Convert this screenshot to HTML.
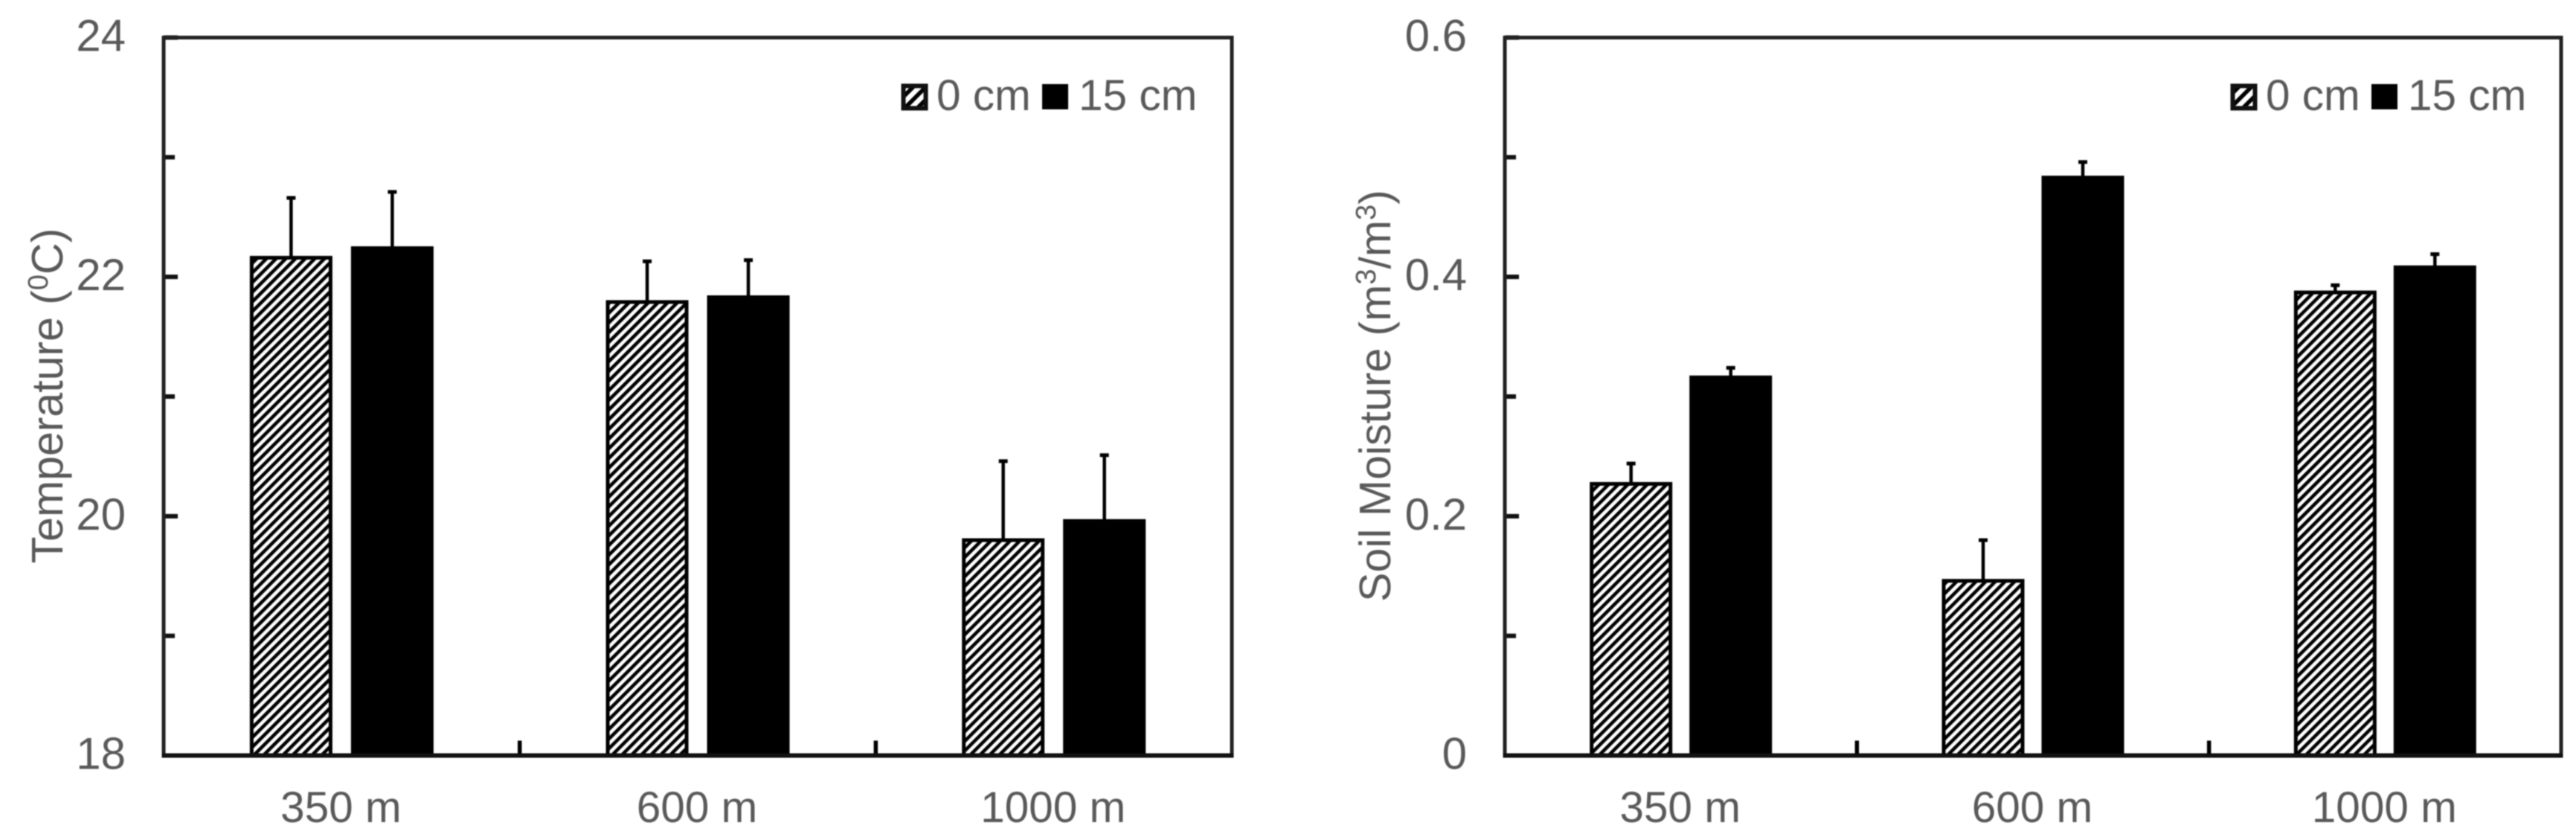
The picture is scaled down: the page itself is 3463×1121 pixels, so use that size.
<!DOCTYPE html>
<html lang="en">
<head>
<meta charset="utf-8">
<title>Temperature and soil moisture by elevation</title>
<style>
  html, body { margin: 0; padding: 0; background: #fff; }
  body { width: 3463px; height: 1121px; overflow: hidden; }
  svg { display: block; filter: blur(0.8px); }
  text { font-family: "Liberation Sans", sans-serif; fill: #595959; }
  .tick-text { font-size: 60px; }
  .cat-text { font-size: 58.5px; }
  .legend-text { font-size: 58.5px; }
  .title-text { font-size: 59px; }
  .title-sup { font-size: 38px; }
</style>
</head>
<body>
<svg id="figure" xmlns="http://www.w3.org/2000/svg" width="3463" height="1121" viewBox="0 0 3463 1121">
  <defs>
    <pattern id="hatch" patternUnits="userSpaceOnUse" width="9.2" height="9.2" patternTransform="rotate(45)">
      <rect width="9.2" height="9.2" fill="#fff"></rect>
      <rect width="4.6" height="9.2" fill="#000"></rect>
    </pattern>
    <pattern id="hatch-legend" patternUnits="userSpaceOnUse" width="12" height="12" patternTransform="rotate(45)">
      <rect width="12" height="12" fill="#fff"></rect>
      <rect width="5.5" height="12" fill="#000"></rect>
    </pattern>
  </defs>
  <g id="temperature-chart"></g>
  <g id="moisture-chart"></g>
</svg>
<script>
const categories = ['350 m', '600 m', '1000 m'];
const seriesNames = ['0 cm', '15 cm'];

const tempSurface = [22.16, 21.79, 19.80];
const tempDeep = [22.24, 21.83, 19.96];
const tempSurfaceErr = [0.50, 0.34, 0.66];
const tempDeepErr = [0.47, 0.31, 0.55];
const tempTickLabels = ['18', '20', '22', '24'];
const tempTickValues = [18, 20, 22, 24];
const tempMinorValues = [19, 21, 23];
const tempRange = [18, 24];

const moistSurface = [0.227, 0.146, 0.387];
const moistDeep = [0.316, 0.483, 0.408];
const moistSurfaceErr = [0.017, 0.034, 0.006];
const moistDeepErr = [0.008, 0.013, 0.011];
const moistTickLabels = ['0', '0.2', '0.4', '0.6'];
const moistTickValues = [0, 0.2, 0.4, 0.6];
const moistMinorValues = [0.1, 0.3, 0.5];
const moistRange = [0, 0.6];

const NS = 'http://www.w3.org/2000/svg';
const TOP = 50.5;
const BOTTOM = 1015.5;

function shape(parent, tag, props) {
  const el = document.createElementNS(NS, tag);
  for (const key in props) el.setAttribute(key, props[key]);
  parent.appendChild(el);
  return el;
}

function drawChart(cfg) {
  const root = document.getElementById(cfg.id);
  const yOf = v => BOTTOM - (v - cfg.range[0]) / (cfg.range[1] - cfg.range[0]) * (BOTTOM - TOP);
  const catWidth = (cfg.right - cfg.left) / categories.length;

  const frame = shape(root, 'rect', { x: cfg.left, y: TOP, width: cfg.right - cfg.left, height: BOTTOM - TOP, fill: '#fff', stroke: 'none' });
  
  

  categories.forEach((cat, i) => {
    const cx = cfg.left + catWidth * (i + 0.5);
    [0, 1].forEach(s => {
      const value = s === 0 ? cfg.surface[i] : cfg.deep[i];
      const err = s === 0 ? cfg.surfaceErr[i] : cfg.deepErr[i];
      const x = cx + (s === 0 ? cfg.barOffset0 : cfg.barOffset1);
      const y = yOf(value);
      const whisker = shape(root, 'line', { x1: x + cfg.barWidth / 2, x2: x + cfg.barWidth / 2, y1: y, y2: yOf(value + err), stroke: '#000', 'stroke-width': 4.5 });
      
      
      const cap = shape(root, 'line', { x1: x + cfg.barWidth / 2 - 6, x2: x + cfg.barWidth / 2 + 6, y1: yOf(value + err), y2: yOf(value + err), stroke: '#000', 'stroke-width': 5 });
      
      
      const bar = shape(root, 'rect', { x: x, y: y, width: cfg.barWidth, height: BOTTOM - y, fill: s === 0 ? 'url(#hatch)' : '#000', stroke: '#000', 'stroke-width': 5 });
      
      
    });
    const label = shape(root, 'text', { x: cx - 1, y: 1105, 'text-anchor': 'middle', class: 'cat-text' });
    label.textContent = cat;
    
    
    if (i > 0) {
      const tick = shape(root, 'line', { x1: cfg.left + catWidth * i, x2: cfg.left + catWidth * i, y1: BOTTOM, y2: BOTTOM - 20, stroke: '#000', 'stroke-width': 5.5 });
      
      
    }
  });

  cfg.tickValues.forEach((v, i) => {
    const y = yOf(v);
    const tick = shape(root, 'line', { x1: cfg.left, x2: cfg.left + 19, y1: y, y2: y, stroke: '#111', 'stroke-width': 6 });
    
    
    const label = shape(root, 'text', { x: cfg.left - 51, y: y + 18, 'text-anchor': 'end', class: 'tick-text' });
    label.textContent = cfg.tickLabels[i];
    
    
  });
  cfg.minorValues.forEach(v => {
    const tick = shape(root, 'line', { x1: cfg.left, x2: cfg.left + 15, y1: yOf(v), y2: yOf(v), stroke: '#111', 'stroke-width': 6 });
    
    
  });

  const border = shape(root, 'path', {
    d: 'M' + cfg.left + ' ' + BOTTOM + 'V' + TOP + 'H' + cfg.right + 'V' + BOTTOM,
    fill: 'none', stroke: '#222', 'stroke-width': 5
  });
  
  
  const xAxis = shape(root, 'line', { x1: cfg.left - 2.5, x2: cfg.right + 2.5, y1: BOTTOM, y2: BOTTOM, stroke: '#111', 'stroke-width': 6 });
  
  

  const title = shape(root, 'text', {
    transform: 'translate(' + cfg.titleX + ' ' + cfg.titleY + ') rotate(-90)',
    'text-anchor': 'middle',
    class: 'title-text'
  });
  
  
  cfg.titleParts.forEach(part => {
    const span = shape(title, 'tspan', {});
    span.textContent = part.t;
    if (part.sup) {
      span.setAttribute('class', 'title-sup');
      span.setAttribute('dy', '-20');
    } else if (part.after) {
      span.setAttribute('dy', '20');
    }
  });

  const lx = cfg.right - 444;
  const swatch0 = shape(root, 'rect', { x: lx + 2.5, y: 115.5, width: 30, height: 30, fill: 'url(#hatch-legend)', stroke: '#111', 'stroke-width': 6 });
  
  
  const text0 = shape(root, 'text', { x: lx + 47, y: 148, class: 'legend-text' });
  text0.textContent = seriesNames[0];
  
  
  const swatch1 = shape(root, 'rect', { x: lx + 189, y: 113, width: 35, height: 34, fill: '#000' });
  
  
  const text1 = shape(root, 'text', { x: lx + 238, y: 148, class: 'legend-text' });
  text1.textContent = seriesNames[1];
  
  
}

drawChart({
  id: 'temperature-chart', left: 220, right: 1656, range: tempRange,
  surface: tempSurface, deep: tempDeep, surfaceErr: tempSurfaceErr, deepErr: tempDeepErr,
  tickValues: tempTickValues, tickLabels: tempTickLabels, minorValues: tempMinorValues,
  barWidth: 106, barOffset0: -121, barOffset1: 15,
  titleX: 84, titleY: 532,
  titleParts: [{ t: 'Temperature (' }, { t: '0', sup: true }, { t: 'C)', after: true }]
});

drawChart({
  id: 'moisture-chart', left: 2023, right: 3443, range: moistRange,
  surface: moistSurface, deep: moistDeep, surfaceErr: moistSurfaceErr, deepErr: moistDeepErr,
  tickValues: moistTickValues, tickLabels: moistTickLabels, minorValues: moistMinorValues,
  barWidth: 106, barOffset0: -120, barOffset1: 14,
  titleX: 1869, titleY: 532,
  titleParts: [{ t: 'Soil Moisture (m' }, { t: '3', sup: true }, { t: '/m', after: true }, { t: '3', sup: true }, { t: ')', after: true }]
});
</script>
</body>
</html>
